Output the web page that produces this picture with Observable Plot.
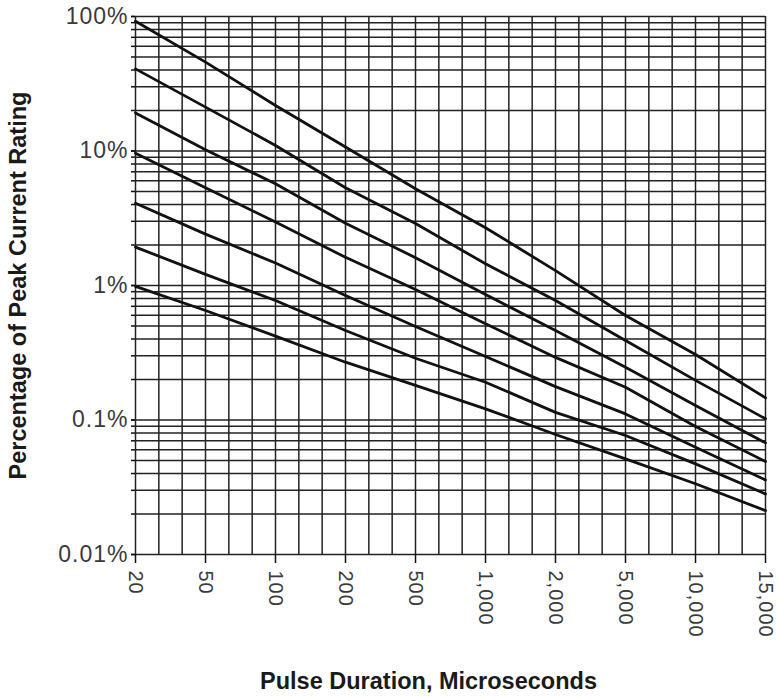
<!DOCTYPE html>
<html>
<head>
<meta charset="utf-8">
<script src="https://cdn.jsdelivr.net/npm/d3@7"></script>
<script src="https://cdn.jsdelivr.net/npm/@observablehq/plot@0.6"></script>
<style>
  body { margin: 0; background: #fff; }
</style>
</head>
<body>
<div id="chart"></div>
<script>
// Pulse durations (microseconds), equally spaced categories on the x axis
const durations = ["20", "50", "100", "200", "500", "1,000", "2,000", "5,000", "10,000", "15,000"];

// Percentage of peak current rating, one array per curve (read at each duration)
const curve1 = [92.3, 45.8, 21.8, 10.7, 5.24, 2.69, 1.29, 0.598, 0.307, 0.146];
const curve2 = [40.8, 21.2, 11.0, 5.33, 2.89, 1.45, 0.773, 0.390, 0.197, 0.102];
const curve3 = [19.2, 10.2, 5.70, 2.90, 1.61, 0.857, 0.463, 0.247, 0.128, 0.0676];
const curve4 = [9.63, 5.33, 2.96, 1.62, 0.933, 0.519, 0.292, 0.175, 0.0895, 0.0491];
const curve5 = [4.09, 2.41, 1.47, 0.843, 0.496, 0.297, 0.177, 0.111, 0.0628, 0.0358];
const curve6 = [1.93, 1.21, 0.773, 0.463, 0.288, 0.191, 0.114, 0.0767, 0.0472, 0.0282];
const curve7 = [0.984, 0.652, 0.420, 0.269, 0.181, 0.121, 0.0780, 0.0514, 0.0336, 0.0212];

// Y axis labelled ticks
const yTicks = [100, 10, 1, 0.1, 0.01];
const yTickLabels = ["100%", "10%", "1%", "0.1%", "0.01%"];

const xTitle = "Pulse Duration, Microseconds";
const yTitle = "Percentage of Peak Current Rating";

const series = [curve1, curve2, curve3, curve4, curve5, curve6, curve7];
const points = series.flatMap((vals, s) => vals.map((v, i) => ({s, i, v})));

// minor grid: 1..9 in every decade, and three divisions per duration interval
const gridY = d3.range(-2, 2).flatMap(e => d3.range(1, 10).map(k => k * Math.pow(10, e))).concat([100]);
const gridX = d3.range(0, (durations.length - 1) * 3 + 1).map(j => j / 3);

const chart = Plot.plot({
  width: 779,
  height: 697,
  marginLeft: 135,
  marginRight: 14,
  marginTop: 16,
  marginBottom: 143,
  x: {type: "linear", domain: [0, durations.length - 1]},
  y: {type: "log", domain: [0.01, 100]},
  style: {fontFamily: "'Liberation Sans', Arial, sans-serif", background: "#fff", color: "#111"},
  marks: [
    Plot.ruleX(gridX, {x: d => d, stroke: "#222", strokeWidth: 1.5}),
    Plot.ruleY(gridY, {y: d => d, stroke: "#222", strokeWidth: 1.5}),
    Plot.axisY({ticks: gridY, tickSize: 4, tickFormat: () => "", label: null, strokeWidth: 1.5}),
    Plot.axisY({
      ticks: yTicks,
      tickSize: 4,
      tickPadding: 3,
      tickFormat: d => yTickLabels[yTicks.indexOf(d)],
      fontSize: 23,
      fill: "#3a3a3a",
      label: null,
      strokeWidth: 1.5
    }),
    Plot.axisX({
      ticks: d3.range(durations.length),
      tickFormat: i => durations[i],
      tickRotate: 90,
      tickSize: 9,
      tickPadding: 7,
      fontSize: 20,
      fill: "#3a3a3a",
      label: null,
      strokeWidth: 1.5
    }),
    Plot.line(points, {x: "i", y: "v", z: "s", stroke: "#111", strokeWidth: 2.8}),
    Plot.text([xTitle], {frameAnchor: "bottom", dx: -22, dy: 127, lineAnchor: "middle", fontSize: 23.5, fontWeight: "bold", fill: "#1a1a1a"}),
    Plot.text([yTitle], {frameAnchor: "left", rotate: -90, dx: -117.5, textAnchor: "middle", lineAnchor: "middle", fontSize: 23.5, fontWeight: "bold", fill: "#1a1a1a"})
  ]
});
d3.select(chart).selectAll("g[aria-label='y-axis tick label'] text, g[aria-label='x-axis tick label'] text").style("letter-spacing", "1px");
document.getElementById("chart").appendChild(chart);
</script>
</body>
</html>
